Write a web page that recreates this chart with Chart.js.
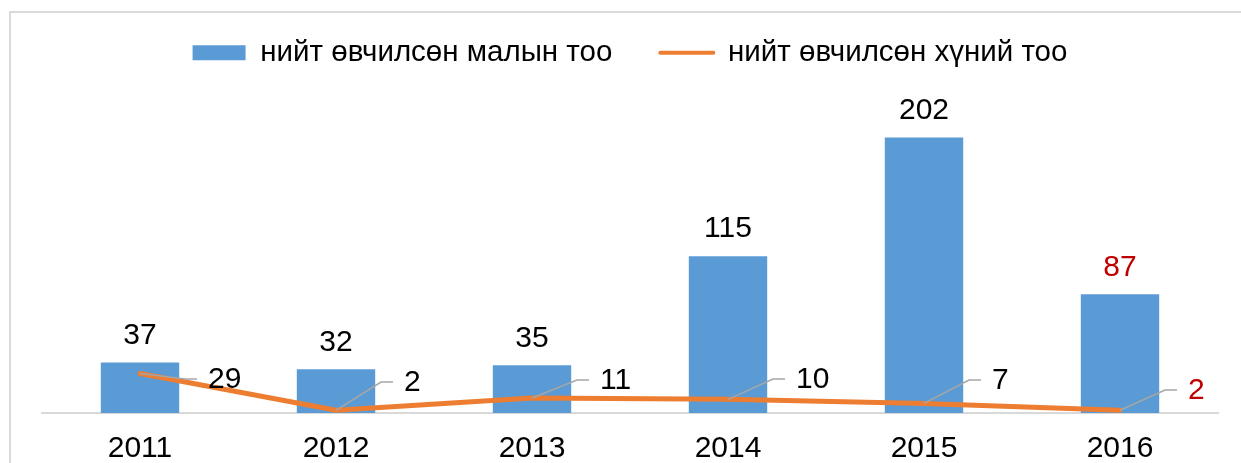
<!DOCTYPE html>
<html>
<head>
<meta charset="utf-8">
<script src="https://cdn.jsdelivr.net/npm/chart.js@4"></script>
<style>
    body { margin: 0; background: #fff; overflow: hidden; }
    #wrap { position: relative; width: 1241px; height: 463px; }
    #frame { position: absolute; left: 9px; top: 11px; width: 1300px; height: 500px; border: 2px solid #d9d9d9; }
    canvas { position: absolute; left: 0; top: 0; }
</style>
</head>
<body>
<div id="wrap">
    <div id="frame"></div>
    <canvas id="chart" width="1241" height="463"></canvas>
</div>
<script>
// Data
const years = ['2011', '2012', '2013', '2014', '2015', '2016'];
const livestockCases = [37, 32, 35, 115, 202, 87];
const humanCases = [29, 2, 11, 10, 7, 2];
const seriesNames = ['нийт өвчилсөн малын тоо', 'нийт өвчилсөн хүний тоо'];

// Styles
const BAR_COLOR = '#5b9bd5';
const LINE_COLOR = '#ed7d31';
const RED = '#c00000';
const FONT = "'Liberation Sans', Arial, sans-serif";
const FONT_SIZE = 30;
const highlightLast = (i) => i === years.length - 1 ? RED : '#000';
// how far above the baseline each line label sits (px)
const lineLabelRise = [33, 30, 32, 33, 32, 22];

Chart.defaults.font.family = FONT;
Chart.defaults.color = '#000';

// Labels: values over bars, leader-line labels for the line
const valueLabels = {
    id: 'valueLabels',
    afterDatasetsDraw(chart) {
        const ctx = chart.ctx;
        const barMeta = chart.getDatasetMeta(0);
        const lineMeta = chart.getDatasetMeta(1);
        const base = chart.scales.y.getPixelForValue(0);
        ctx.save();
        ctx.font = FONT_SIZE + 'px ' + FONT;
        ctx.textBaseline = 'middle';

        barMeta.data.forEach((bar, i) => {
            ctx.fillStyle = highlightLast(i);
            ctx.textAlign = 'center';
            ctx.fillText(livestockCases[i], bar.x, bar.y - 27);
        });

        lineMeta.data.forEach((pt, i) => {
            const ly = base - lineLabelRise[i];
            ctx.strokeStyle = '#a6a6a6';
            ctx.lineWidth = 1.5;
            ctx.beginPath();
            ctx.moveTo(pt.x, pt.y);
            ctx.lineTo(pt.x + 45, ly - 1);
            ctx.lineTo(pt.x + 57, ly - 1);
            ctx.stroke();
            ctx.fillStyle = highlightLast(i);
            ctx.textAlign = 'left';
            ctx.fillText(humanCases[i], pt.x + 68, ly);
        });
        ctx.restore();
    }
};

const ctx = document.getElementById('chart').getContext('2d');
const chart = new Chart(ctx, {
    type: 'bar',
    data: {
        labels: years,
        datasets: [
            { type: 'bar', label: seriesNames[0], data: livestockCases, backgroundColor: BAR_COLOR, categoryPercentage: 0.4, barPercentage: 1, order: 2 },
            { type: 'line', label: seriesNames[1], data: humanCases, borderColor: LINE_COLOR, borderWidth: 5, pointRadius: 0, tension: 0, borderCapStyle: 'round', borderJoinStyle: 'round', order: 1 }
        ]
    },
    options: {
        responsive: false,
        animation: false,
        layout: { padding: { left: 42, right: 23, top: -10, bottom: -22 } },
        scales: {
            y: { display: false, min: 0, max: 246 },
            x: {
                grid: { display: false, drawTicks: false },
                border: { color: '#d9d9d9', width: 2 },
                ticks: { font: { size: FONT_SIZE }, color: '#000', padding: 18 }
            }
        },
        plugins: {
            tooltip: { enabled: false },
            legend: {
                position: 'top',
                labels: {
                    usePointStyle: true,
                    pointStyleWidth: 53,
                    boxHeight: 15,
                    padding: 48,
                    font: { size: 29.5 },
                    color: '#000',
                    generateLabels: () => [
                        { text: seriesNames[0], fillStyle: BAR_COLOR, strokeStyle: BAR_COLOR, lineWidth: 0, pointStyle: 'rect', datasetIndex: 0, hidden: false },
                        { text: seriesNames[1], fillStyle: LINE_COLOR, strokeStyle: LINE_COLOR, lineWidth: 4, lineCap: 'round', pointStyle: 'line', datasetIndex: 1, hidden: false }
                    ]
                }
            }
        }
    },
    plugins: [valueLabels]
});
</script>
</body>
</html>
